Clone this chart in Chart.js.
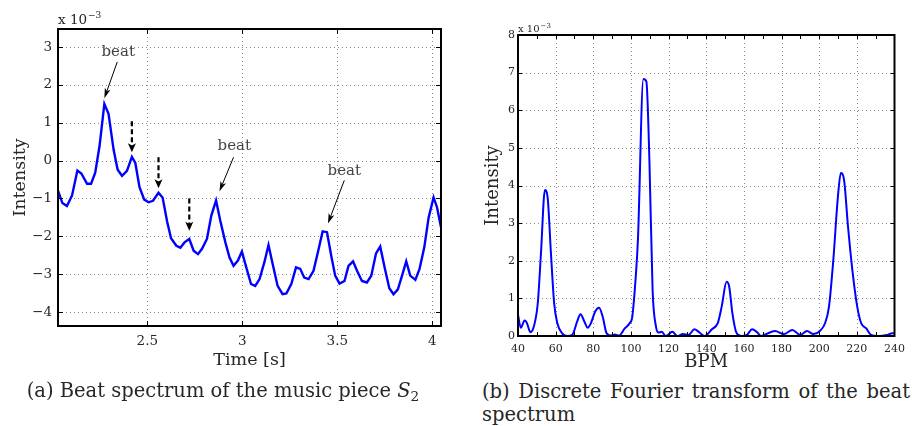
<!DOCTYPE html>
<html>
<head>
<meta charset="utf-8">
<script src="https://cdn.jsdelivr.net/npm/chart.js@4.4.1/dist/chart.umd.min.js"></script>
<style>
body { margin: 0; width: 912px; height: 426px; background: #fff; position: relative; overflow: hidden; font-family: 'DejaVu Serif', serif; }
canvas { position: absolute; top: 0; }
#beatChart { left: 0; }
#dftChart { left: 460px; }
.caption { position: absolute; color: #262626; font-size: 19.5px; line-height: 23px; }
.caption sub { font-size: 70%; vertical-align: -0.3em; line-height: 0; }
#capA { left: 0; width: 446px; top: 379px; text-align: center; }
#capB { left: 482px; width: 428px; top: 380px; text-align: justify; text-align-last: left; }
</style>
</head>
<body>
<canvas id="beatChart" width="460" height="380"></canvas>
<canvas id="dftChart" width="452" height="380"></canvas>
<div class="caption" id="capA">(a) Beat spectrum of the music piece <i>S</i><sub>2</sub></div>
<div class="caption" id="capB">(b) Discrete Fourier transform of the beat spectrum</div>
<script>
// (a) beat spectrum, intensity in units of 1e-3
const beatTime = [2.030, 2.053, 2.077, 2.104, 2.132, 2.153, 2.183, 2.204, 2.226, 2.249, 2.274, 2.296, 2.323, 2.344, 2.367, 2.393, 2.419, 2.437, 2.459, 2.484,
  2.507, 2.530, 2.559, 2.581, 2.604, 2.625, 2.653, 2.674, 2.696, 2.721, 2.744, 2.767, 2.788, 2.814, 2.837, 2.862, 2.884, 2.911, 2.933, 2.954,
  2.977, 2.998, 3.021, 3.046, 3.068, 3.091, 3.116, 3.138, 3.162, 3.186, 3.212, 3.232, 3.258, 3.283, 3.305, 3.326, 3.349, 3.375, 3.398, 3.423,
  3.446, 3.468, 3.489, 3.512, 3.538, 3.559, 3.583, 3.604, 3.630, 3.656, 3.679, 3.704, 3.726, 3.749, 3.774, 3.796, 3.819, 3.841, 3.863, 3.884,
  3.911, 3.933, 3.958, 3.981, 4.007, 4.025, 4.046];
const beatIntensity = [-0.79, -1.12, -1.2, -0.92, -0.26, -0.34, -0.61, -0.61, -0.32, 0.4, 1.5, 1.24, 0.28, -0.24, -0.4, -0.27, 0.1, -0.06, -0.7, -1.03,
  -1.1, -1.06, -0.85, -0.98, -1.6, -2.05, -2.25, -2.3, -2.16, -2.07, -2.38, -2.47, -2.33, -2.07, -1.45, -1.05, -1.58, -2.16, -2.56, -2.78,
  -2.64, -2.4, -2.82, -3.26, -3.31, -3.13, -2.69, -2.23, -2.78, -3.31, -3.53, -3.51, -3.26, -2.82, -2.86, -3.09, -3.13, -2.91, -2.42, -1.87,
  -1.89, -2.51, -3.04, -3.25, -3.18, -2.78, -2.66, -2.91, -3.18, -3.22, -3.04, -2.45, -2.27, -2.82, -3.37, -3.53, -3.4, -3.04, -2.66, -3.04,
  -3.15, -2.86, -2.29, -1.5, -0.97, -1.23, -1.76];
const timeTicks = [2.5, 3, 3.5, 4];
const beatTicks = [-4, -3, -2, -1, 0, 1, 2, 3];

// (b) DFT of the beat spectrum, intensity in units of 1e-3
const bpm = [40, 41.5, 43.5, 44.6, 46.6, 48.4, 50.5, 52.2, 54.3, 55.7, 57.5, 59.2, 60.9, 63.5, 66.2, 68.8, 71.4, 73.2, 75.3, 77,
  78.7, 81, 83.1, 85, 87.1, 89.7, 91.5, 93.7, 96.7, 99.3, 100.7, 102.8, 103.7, 106.6, 108.2, 109.8, 111.5, 113.3, 114.7, 116.4,
  118.5, 122, 124.6, 127.6, 130.7, 133.7, 136, 139.1, 143, 146.1, 148.2, 150.8, 152.2, 153.9, 156, 158.6, 161.6, 164.4, 166.8, 169.1,
  171.7, 176.5, 181.3, 185.7, 190, 193.5, 197, 200.5, 203.1, 205.2, 207.5, 209.8, 211.5, 213.2, 215.3, 217.6, 220.2, 222.3, 225, 227.5,
  231, 233.6, 236.2, 238.8, 240];
const dftIntensity = [0.56, 0.22, 0.41, 0.36, 0.1, 0.25, 0.87, 2.2, 3.88, 3.7, 2.2, 0.87, 0.34, 0.07, 0, 0.03, 0.38, 0.58, 0.38, 0.22,
  0.34, 0.65, 0.75, 0.51, 0.07, 0.01, 0.04, 0.01, 0.2, 0.34, 0.51, 1.76, 2.55, 6.83, 6.76, 4.68, 1.22, 0.25, 0.09, 0.11,
  0, 0.11, 0, 0.05, 0.03, 0.18, 0.11, 0, 0.18, 0.34, 0.78, 1.44, 1.31, 0.6, 0.09, 0, 0.03, 0.18, 0.11, 0,
  0.05, 0.13, 0.05, 0.16, 0.03, 0.13, 0.05, 0.14, 0.34, 0.78, 2.02, 3.62, 4.33, 4.15, 2.91, 1.76, 0.78, 0.34, 0.2, 0.03,
  0, 0.01, 0.03, 0.07, 0.07];
const bpmTicks = [40, 60, 80, 100, 120, 140, 160, 180, 200, 220, 240];
const bpmMarks = [50, 60, 70, 80, 90, 100, 110, 120, 130, 140, 150, 160, 170, 180, 190, 200, 210, 220, 230];
const dftTicks = [0, 1, 2, 3, 4, 5, 6, 7, 8];

// annotations of (a), in data units
const beatNotes = [
  { text: 'beat', at: [2.347, 2.87], from: [2.342, 2.61], to: [2.274, 1.65] },
  { text: 'beat', at: [2.958, 0.38], from: [2.954, 0.09], to: [2.880, -0.81] },
  { text: 'beat', at: [3.537, -0.28], from: [3.537, -0.52], to: [3.451, -1.66] }
];
const subBeats = [
  { from: [2.419, 1.04], to: [2.419, 0.22] },
  { from: [2.559, 0.09], to: [2.559, -0.73] },
  { from: [2.721, -1.0], to: [2.721, -1.85] }
];

const FONT = 'DejaVu Serif';
const TXT = '#262626';

const minus = v => (v < 0 ? '\u2212' + Math.abs(v) : String(v));
const fixTicks = list => s => { s.ticks = list.map(v => ({ value: v })); };

// matlab-ish box: dotted grid, inward tick marks, heavy frame, exponent label
const matlabAxes = {
  id: 'matlabAxes',
  beforeDatasetsDraw(chart, args, o) {
    const { ctx, chartArea: a, scales: { x, y } } = chart;
    ctx.save();
    ctx.strokeStyle = '#8a8a8a';
    ctx.lineWidth = 1;
    ctx.setLineDash([1, 3]);
    o.xGrid.forEach(v => {
      const p = Math.round(x.getPixelForValue(v)) + 0.5;
      ctx.beginPath(); ctx.moveTo(p, a.top); ctx.lineTo(p, a.bottom); ctx.stroke();
    });
    o.yGrid.forEach(v => {
      const p = Math.round(y.getPixelForValue(v)) + 0.5;
      ctx.beginPath(); ctx.moveTo(a.left, p); ctx.lineTo(a.right, p); ctx.stroke();
    });
    ctx.restore();
  },
  afterDatasetsDraw(chart, args, o) {
    const { ctx, chartArea: a, scales: { x, y } } = chart;
    ctx.save();
    ctx.strokeStyle = '#000';
    ctx.lineWidth = 1;
    o.xMarks.forEach(v => {
      const p = Math.round(x.getPixelForValue(v)) + 0.5;
      ctx.beginPath();
      ctx.moveTo(p, a.bottom); ctx.lineTo(p, a.bottom - o.tickLen);
      ctx.moveTo(p, a.top); ctx.lineTo(p, a.top + o.tickLen);
      ctx.stroke();
    });
    o.yMarks.forEach(v => {
      const p = Math.round(y.getPixelForValue(v)) + 0.5;
      ctx.beginPath();
      ctx.moveTo(a.left, p); ctx.lineTo(a.left + o.tickLen, p);
      ctx.moveTo(a.right, p); ctx.lineTo(a.right - o.tickLen, p);
      ctx.stroke();
    });
    ctx.lineWidth = o.frame;
    ctx.strokeRect(a.left, a.top, a.right - a.left, a.bottom - a.top);
    // exponent
    ctx.fillStyle = TXT;
    ctx.textBaseline = 'alphabetic';
    ctx.font = o.expSize + 'px "' + FONT + '"';
    const base = 'x 10';
    ctx.fillText(base, a.left, a.top - o.expGap);
    const w = ctx.measureText(base).width;
    ctx.font = Math.round(o.expSize * 0.68) + 'px "' + FONT + '"';
    ctx.fillText('\u22123', a.left + w + 1, a.top - o.expGap - o.expSize * 0.45);
    ctx.restore();
  }
};

function arrow(ctx, a, b, head, width) {
  const ang = Math.atan2(b[1] - a[1], b[0] - a[0]);
  const c = Math.cos(ang), s = Math.sin(ang);
  const bx = b[0] - head * c, by = b[1] - head * s;
  const nx = b[0] - head * 0.75 * c, ny = b[1] - head * 0.75 * s;
  ctx.beginPath(); ctx.moveTo(a[0], a[1]); ctx.lineTo(nx, ny); ctx.stroke();
  ctx.setLineDash([]);
  ctx.beginPath();
  ctx.moveTo(b[0], b[1]);
  ctx.lineTo(bx + width / 2 * s, by - width / 2 * c);
  ctx.lineTo(nx, ny);
  ctx.lineTo(bx - width / 2 * s, by + width / 2 * c);
  ctx.closePath();
  ctx.fill();
}

const beatAnnotations = {
  id: 'beatAnnotations',
  afterDatasetsDraw(chart) {
    const { ctx, scales: { x, y } } = chart;
    const P = p => [x.getPixelForValue(p[0]), y.getPixelForValue(p[1])];
    ctx.save();
    ctx.fillStyle = '#000';
    ctx.strokeStyle = '#000';
    subBeats.forEach(d => {
      ctx.lineWidth = 2.2;
      ctx.setLineDash([5, 3]);
      arrow(ctx, P(d.from), P(d.to), 9, 8);
    });
    beatNotes.forEach(n => {
      ctx.lineWidth = 1;
      ctx.setLineDash([]);
      ctx.fillStyle = '#000';
      arrow(ctx, P(n.from), P(n.to), 10, 6);
      ctx.fillStyle = '#444';
      ctx.font = '15px "' + FONT + '"';
      ctx.textAlign = 'center';
      ctx.textBaseline = 'middle';
      const t = P(n.at);
      ctx.fillText(n.text, t[0], t[1]);
    });
    ctx.restore();
  }
};

function axisOptions(cfg) {
  return {
    type: 'linear',
    position: cfg.position,
    min: cfg.min,
    max: cfg.max,
    grid: { display: false, drawTicks: false },
    border: { display: false },
    afterBuildTicks: fixTicks(cfg.ticks),
    afterFit: cfg.fit,
    ticks: {
      autoSkip: false,
      maxRotation: 0,
      padding: cfg.pad,
      color: TXT,
      font: { family: FONT, size: cfg.tickSize },
      callback: minus
    },
    title: {
      display: true,
      text: cfg.title,
      color: TXT,
      font: { family: FONT, size: cfg.titleSize },
      padding: cfg.titlePad
    }
  };
}

new Chart(document.getElementById('beatChart'), {
  type: 'line',
  data: {
    datasets: [{
      data: beatTime.map((t, i) => ({ x: t, y: beatIntensity[i] })),
      borderColor: '#0000ff',
      borderWidth: 2.4,
      pointRadius: 0,
      tension: 0
    }]
  },
  options: {
    responsive: false,
    animation: false,
    layout: { padding: { top: 29, right: 19, bottom: 0, left: 0 } },
    plugins: {
      legend: { display: false },
      tooltip: { enabled: false },
      matlabAxes: {
        xGrid: timeTicks, yGrid: beatTicks, xMarks: timeTicks, yMarks: beatTicks,
        tickLen: 5, frame: 2, expSize: 13.5, expGap: 5
      }
    },
    scales: {
      x: axisOptions({ position: 'bottom', min: 2.03, max: 4.046, ticks: timeTicks, pad: 7, tickSize: 13.5,
        title: 'Time [s]', titleSize: 17.5, titlePad: { top: 0, bottom: 9.5 }, fit: s => { s.height = 54; } }),
      y: axisOptions({ position: 'left', min: -4.37, max: 3.48, ticks: beatTicks, pad: 6, tickSize: 13.5,
        title: 'Intensity', titleSize: 17.5, titlePad: { top: 9.5, bottom: 0 }, fit: s => { s.width = 58; } })
    }
  },
  plugins: [matlabAxes, beatAnnotations]
});

new Chart(document.getElementById('dftChart'), {
  type: 'line',
  data: {
    datasets: [{
      data: bpm.map((b, i) => ({ x: b, y: dftIntensity[i] })),
      borderColor: '#0000ff',
      borderWidth: 2,
      pointRadius: 0,
      cubicInterpolationMode: 'monotone'
    }]
  },
  options: {
    responsive: false,
    animation: false,
    layout: { padding: { top: 35, right: 11, bottom: 0, left: 0 } },
    plugins: {
      legend: { display: false },
      tooltip: { enabled: false },
      matlabAxes: {
        xGrid: bpmTicks.slice(1, -1), yGrid: dftTicks.slice(1, -1), xMarks: bpmMarks, yMarks: dftTicks,
        tickLen: 4, frame: 2, expSize: 10, expGap: 3
      }
    },
    scales: {
      x: axisOptions({ position: 'bottom', min: 40, max: 240, ticks: bpmTicks, pad: 7, tickSize: 11,
        title: 'BPM', titleSize: 18, titlePad: { top: 0, bottom: 7 }, fit: s => { s.height = 44; } }),
      y: axisOptions({ position: 'left', min: 0, max: 8, ticks: dftTicks, pad: 3, tickSize: 11,
        title: 'Intensity', titleSize: 18, titlePad: { top: 23, bottom: 0 }, fit: s => { s.width = 58; } })
    }
  },
  plugins: [matlabAxes]
});
</script>
</body>
</html>
